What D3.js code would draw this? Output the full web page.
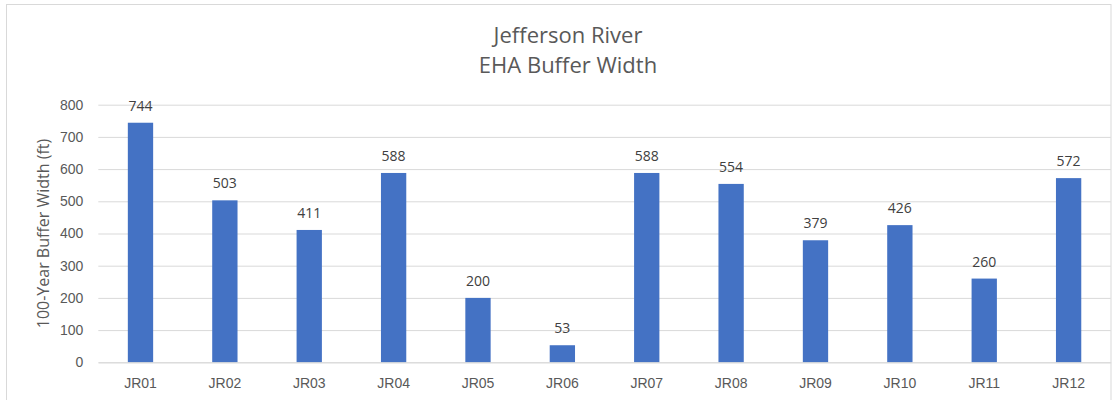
<!DOCTYPE html>
<html><head><meta charset="utf-8">
<script src="https://cdn.jsdelivr.net/npm/d3@7"></script>
<style>body{margin:0;background:#fff;} svg{display:block;font-family:"Open Sans","Noto Sans",sans-serif;}</style>
</head><body>
<svg id="c" width="1120" height="400"></svg>
<script>
const categories = ["JR01","JR02","JR03","JR04","JR05","JR06","JR07","JR08","JR09","JR10","JR11","JR12"];
const values = [744,503,411,588,200,53,588,554,379,426,260,572];
const yTicks = [0,100,200,300,400,500,600,700,800];
const titleLines = ["Jefferson River","EHA Buffer Width"];
const yTitle = "100-Year Buffer Width (ft)";

const svg = d3.select("#c");
const m = {left:98.3, right:1110.8, top:104.7, bottom:362.3};

svg.append("rect").attr("x",6.5).attr("y",4.5).attr("width",1104.5).attr("height",420)
  .attr("fill","#fff").attr("stroke","#d9d9d9").attr("stroke-width",1);

const x = d3.scaleBand().domain(categories).range([m.left,m.right]).paddingInner(0.7).paddingOuter(0.35);
const y = d3.scaleLinear().domain([0,800]).range([m.bottom,m.top]);

// gridlines
const yAxis = d3.axisLeft(y).tickValues(yTicks).tickSize(-(m.right-m.left)).tickPadding(15);
const gy = svg.append("g").attr("transform",`translate(${m.left},0)`).call(yAxis);
gy.select(".domain").remove();
gy.selectAll(".tick line").attr("stroke","#d9d9d9").attr("stroke-width",1);
gy.selectAll(".tick text").attr("fill","#595959").attr("font-size",14);

// bars
svg.append("g").selectAll("rect").data(values).join("rect")
  .attr("x",(d,i)=>x(categories[i]))
  .attr("y",d=>y(d))
  .attr("width",x.bandwidth())
  .attr("height",d=>y(0)-y(d))
  .attr("fill","#4472C4");

// value labels
svg.append("g").selectAll("text").data(values).join("text")
  .attr("x",(d,i)=>x(categories[i])+x.bandwidth()/2)
  .attr("y",d=>y(d)-12)
  .attr("text-anchor","middle").attr("fill","#404040").attr("font-size",14)
  .text(d=>d);

// x axis
const xAxis = d3.axisBottom(x).tickSize(0).tickPadding(16);
const gx = svg.append("g").attr("transform",`translate(0,${m.bottom})`).call(xAxis);
gx.select(".domain").attr("stroke","#d9d9d9");
gx.selectAll(".tick text").attr("fill","#595959").attr("font-size",14);

// title
svg.append("g").selectAll("text").data(titleLines).join("text")
  .attr("x",568).attr("y",(d,i)=>43+i*30)
  .attr("text-anchor","middle").attr("fill","#595959").attr("font-size",22)
  .text(d=>d);

// y title
svg.append("text").attr("transform",`translate(49,${(m.top+m.bottom)/2}) rotate(-90)`)
  .attr("text-anchor","middle").attr("fill","#595959").attr("font-size",16)
  .text(yTitle);
</script>
</body></html>
